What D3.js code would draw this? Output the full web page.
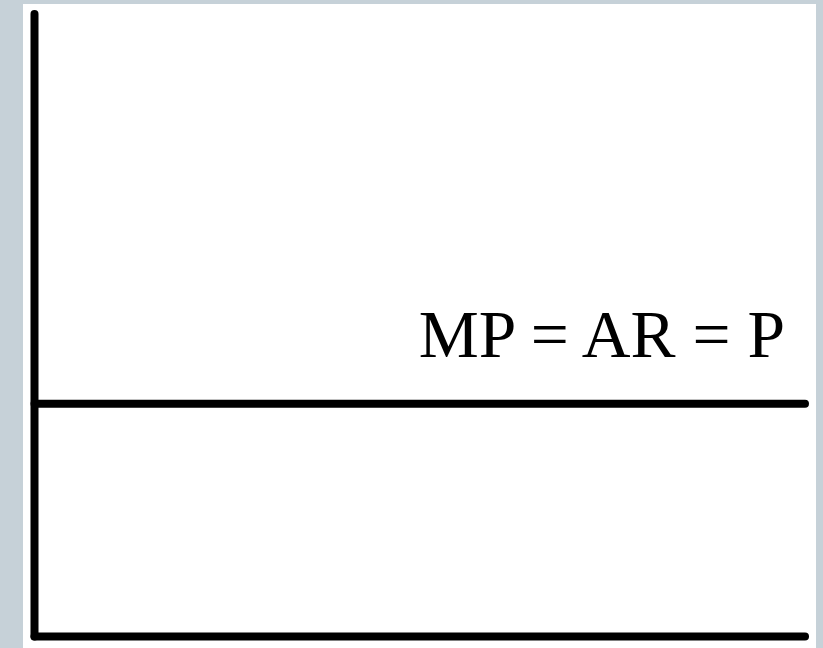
<!DOCTYPE html>
<html>
<head>
<meta charset="utf-8">
<script src="https://cdn.jsdelivr.net/npm/d3@7"></script>
<style>
  html, body { margin: 0; padding: 0; background: #c6d1d8; }
  svg { display: block; }
</style>
</head>
<body>
<svg id="chart" width="823" height="648"></svg>
<script>
// quantity / price extent of the diagram (unitless)
const qtyDomain = [0, 10];
const priceDomain = [0, 10];
// flat demand curve of the perfectly competitive firm
const priceLevel = 3.74;
const curveLabel = "MP = AR = P";

const svg = d3.select("#chart");
const width = +svg.attr("width");
const height = +svg.attr("height");

// white panel
svg.append("rect")
   .attr("x", 23)
   .attr("y", 4)
   .attr("width", 793)
   .attr("height", height - 4)
   .attr("fill", "#ffffff");

const x = d3.scaleLinear().domain(qtyDomain).range([34.5, 805]);
const y = d3.scaleLinear().domain(priceDomain).range([636.5, 14]);

const strokeW = 8;

// axes (plain lines, no ticks)
svg.append("line")
   .attr("x1", x(qtyDomain[0])).attr("y1", y(priceDomain[0]))
   .attr("x2", x(qtyDomain[0])).attr("y2", y(priceDomain[1]))
   .attr("stroke", "#000").attr("stroke-width", strokeW)
   .attr("stroke-linecap", "round");

svg.append("line")
   .attr("x1", x(qtyDomain[0])).attr("y1", y(priceDomain[0]))
   .attr("x2", x(qtyDomain[1])).attr("y2", y(priceDomain[0]))
   .attr("stroke", "#000").attr("stroke-width", strokeW)
   .attr("stroke-linecap", "round");

// price line
const line = d3.line().x(d => x(d[0])).y(d => y(d[1]));
svg.append("path")
   .datum([[qtyDomain[0], priceLevel], [qtyDomain[1], priceLevel]])
   .attr("d", line)
   .attr("fill", "none")
   .attr("stroke", "#000")
   .attr("stroke-width", strokeW)
   .attr("stroke-linecap", "round");

svg.append("text")
   .attr("x", x(qtyDomain[1]) - 20)
   .attr("y", y(priceLevel) - 47)
   .attr("text-anchor", "end")
   .attr("font-family", "'Liberation Serif', 'Times New Roman', serif")
   .attr("font-size", 67.5)
   .attr("fill", "#000")
   .text(curveLabel);
</script>
</body>
</html>
